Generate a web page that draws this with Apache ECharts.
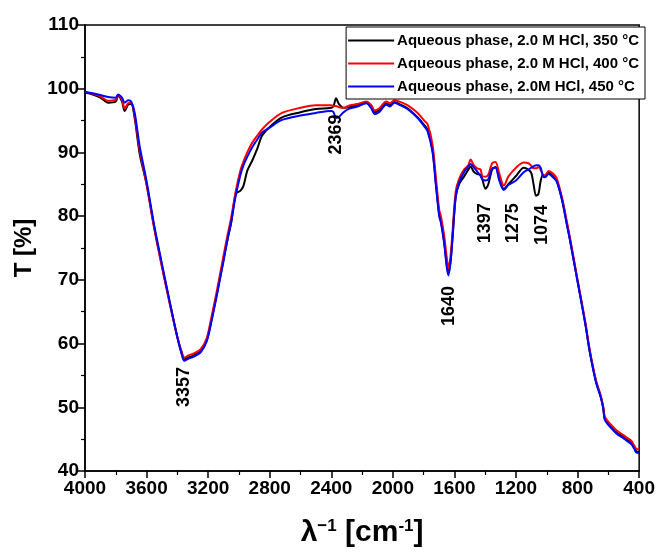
<!DOCTYPE html>
<html>
<head>
<meta charset="utf-8">
<script src="https://cdn.jsdelivr.net/npm/echarts@6/dist/echarts.min.js"></script>
<style>html,body{margin:0;padding:0;background:#fff}#c{width:658px;height:553px}</style>
</head>
<body>
<div id="c"></div>
<script>
const wavenumbers = [4000,3950,3900,3850,3800,3785,3760,3742,3720,3700,3677,3645,3600,3550,3500,3450,3400,3370,3355,3330,3290,3250,3210,3180,3140,3100,3075,3050,3020,2990,2970,2946,2914,2882,2850,2800,2720,2600,2500,2400,2385,2369,2350,2320,2290,2230,2172,2140,2118,2090,2043,2020,1990,1960,1903,1839,1796,1774,1742,1721,1699,1688,1667,1650,1639,1625,1613,1592,1570,1538,1510,1495,1475,1452,1430,1419,1398,1380,1355,1333,1310,1290,1279,1250,1200,1150,1120,1100,1086,1070,1054,1040,1025,1011,989,960,935,900,871,850,800,750,721,680,650,634,624,606,580,548,500,484,450,430,419,400];
const black350 = [99.4,99.1,98.6,97.8,98.0,98.9,98.0,96.5,97.5,97.6,95.3,89.8,85.0,78.2,72.2,66.5,61.0,58.3,57.5,57.8,58.2,58.8,60.5,63.5,68.2,73.2,76.3,79.0,83.5,84.0,84.8,87.1,88.7,90.5,92.6,94.0,95.5,96.3,96.8,97.0,97.3,98.5,97.6,97.0,97.1,97.4,97.9,97.2,96.3,96.6,97.7,97.4,97.9,97.6,96.9,95.5,94.3,93.5,90.3,85.3,80.3,79.3,76.0,72.5,71.0,73.0,76.5,83.0,85.0,86.2,87.3,87.8,87.0,86.6,86.5,85.8,84.3,85.0,87.3,87.7,86.0,84.6,84.3,85.0,86.3,87.6,87.3,86.7,85.0,83.2,83.5,85.5,86.5,86.2,86.8,86.3,85.5,82.5,79.0,76.4,69.8,63.2,58.8,54.0,51.7,50.0,48.3,47.6,46.9,46.1,45.3,45.0,44.4,43.6,43.1,43.0];
const red400 = [99.5,99.2,98.8,98.1,98.3,99.0,98.3,96.9,97.7,97.8,95.7,90.4,85.0,78.0,72.0,66.3,61.0,58.6,57.8,58.1,58.5,59.1,60.8,64.0,68.7,73.8,76.9,79.8,84.0,87.2,88.6,90.0,91.5,92.6,93.6,94.8,96.2,97.0,97.4,97.4,97.3,97.3,97.1,97.0,97.3,97.6,98.0,97.4,96.6,96.9,98.0,97.7,98.2,98.0,97.4,96.2,95.0,94.4,91.2,86.2,81.0,80.0,77.0,73.5,71.8,73.8,77.3,83.8,85.8,87.3,88.0,88.9,88.0,87.5,87.3,86.3,86.2,86.5,88.3,88.5,86.8,85.2,84.8,86.2,87.6,88.4,88.3,87.9,87.5,87.5,87.7,87.3,86.5,86.4,87.1,86.7,85.9,82.8,79.3,76.7,70.0,63.4,59.0,54.2,51.9,50.2,48.6,47.9,47.2,46.4,45.6,45.3,44.7,43.9,43.5,43.4];
const blue450 = [99.5,99.3,99.0,98.7,98.6,99.1,98.6,97.8,98.2,98.0,96.2,91.0,85.5,78.5,72.5,66.6,61.0,58.2,57.3,57.6,58.0,58.6,60.3,63.3,68.0,73.0,76.2,79.2,83.3,86.5,88.0,89.3,90.8,92.0,93.1,93.9,95.1,95.8,96.2,96.5,96.3,95.4,95.6,96.3,96.8,97.2,97.7,96.9,96.0,96.3,97.5,97.2,97.8,97.5,96.8,95.4,94.1,93.3,90.0,85.0,80.0,79.0,75.8,72.0,70.7,72.8,76.3,83.0,85.3,86.9,87.8,88.2,87.7,87.0,86.3,85.8,85.6,85.8,87.5,87.6,85.7,84.4,84.1,84.9,85.6,86.9,87.3,87.6,87.8,88.0,88.0,87.6,86.3,86.1,86.6,86.1,85.4,82.4,78.8,76.3,69.7,63.1,58.7,53.9,51.6,49.9,48.1,47.4,46.7,45.9,45.1,44.8,44.2,43.4,42.9,42.8];
const seriesNames = ['Aqueous phase, 2.0 M HCl, 350 °C','Aqueous phase, 2.0 M HCl, 400 °C','Aqueous phase, 2.0M HCl, 450 °C'];
const seriesColors = ['#000000','#ff0000','#0000ff'];
const xTicks = [4000,3600,3200,2800,2400,2000,1600,1200,800,400];
const yTicks = [40,50,60,70,80,90,100,110];
const peakLabels = ['3357','2369','1640','1397','1275','1074'];
const peakLabelX = [3355,2369,1632,1400,1222,1034];
const peakLabelY = [53.2,92.8,65.9,78.9,78.9,78.6];

const font = '"Liberation Sans", Arial, sans-serif';
const chart = echarts.init(document.getElementById('c'), null, {renderer:'canvas'});
const allSeries = [black350, red400, blue450].map((vals, i) => ({
  name: seriesNames[i],
  type: 'line',
  data: wavenumbers.map((w, j) => [w, vals[j]]),
  symbol: 'none',
  smooth: 0.3,
  lineStyle: {color: seriesColors[i], width: 2},
  itemStyle: {color: seriesColors[i]},
  z: 2 + i,
  animation: false
}));
allSeries.push({
  type: 'scatter',
  data: peakLabels.map((t, i) => ({value: [peakLabelX[i], peakLabelY[i]], name: t})),
  symbolSize: 1,
  itemStyle: {opacity: 0},
  silent: true,
  label: {
    show: true, position: 'inside', rotate: 90,
    formatter: p => p.name,
    color: '#000', fontWeight: 'bold', fontSize: 18, fontFamily: font, opacity: 1
  },
  z: 10, animation: false
});
chart.setOption({
  backgroundColor: '#fff',
  animation: false,
  grid: {left: 85, right: 15, top: 25, bottom: 79, show: true, borderColor: '#000', borderWidth: 1.5, backgroundColor: 'transparent'},
  legend: {
    data: seriesNames,
    orient: 'vertical',
    right: 13, top: 27,
    backgroundColor: '#fff',
    borderColor: '#000', borderWidth: 1,
    padding: [6, 6, 5, 2],
    itemGap: 8,
    icon: 'rect',
    itemWidth: 46, itemHeight: 2,
    textStyle: {color: '#000', fontWeight: 'bold', fontSize: 15, fontFamily: font, padding: [0,0,0,-2]}
  },
  xAxis: {
    type: 'value', inverse: true, min: 400, max: 4000, interval: 400,
    axisLine: {show: true, lineStyle: {color: '#000', width: 1.5}},
    axisTick: {show: true, length: 7, lineStyle: {color: '#000', width: 1.5}},
    minorTick: {show: true, splitNumber: 2, length: 4, lineStyle: {color: '#000', width: 1.2}},
    splitLine: {show: false},
    axisLabel: {color: '#000', fontWeight: 'bold', fontSize: 19, fontFamily: font, margin: 8,
      formatter: v => xTicks.includes(v) ? String(v) : ''},
    name: '{l|λ}{s|−1}{l| [cm}{s|-1}{l|]}',
    nameLocation: 'middle', nameGap: 47,
    nameTextStyle: {rich: {
      l: {fontSize: 30, fontWeight: 'bold', fontFamily: font, color: '#000', verticalAlign: 'bottom'},
      s: {fontSize: 17, fontWeight: 'bold', fontFamily: font, color: '#000', verticalAlign: 'top', padding: [0,0,13,0]}
    }}
  },
  yAxis: {
    type: 'value', min: 40, max: 110, interval: 10,
    axisLine: {show: true, lineStyle: {color: '#000', width: 1.5}},
    axisTick: {show: true, length: 7, lineStyle: {color: '#000', width: 1.5}},
    minorTick: {show: true, splitNumber: 2, length: 4, lineStyle: {color: '#000', width: 1.2}},
    splitLine: {show: false},
    axisLabel: {color: '#000', fontWeight: 'bold', fontSize: 19, fontFamily: font, margin: 6,
      formatter: v => yTicks.includes(v) ? String(v) : ''},
    name: 'T [%]', nameLocation: 'middle', nameGap: 38,
    nameTextStyle: {color: '#000', fontWeight: 'bold', fontSize: 24, fontFamily: font}
  },
  series: allSeries
});
</script>
</body>
</html>
